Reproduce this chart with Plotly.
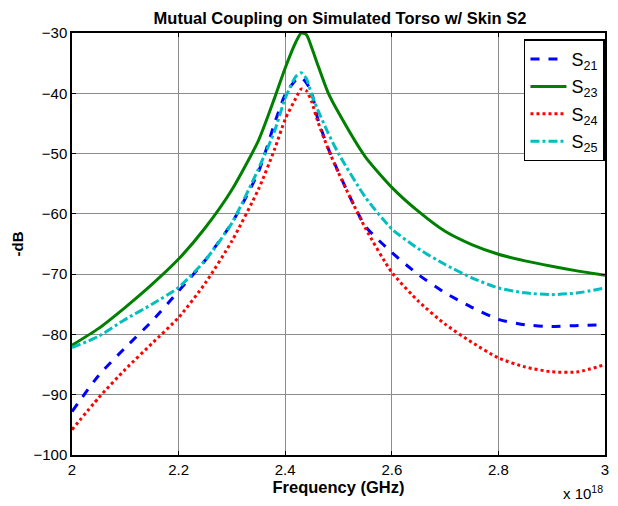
import plotly.graph_objects as go

freq = [2.0, 2.05, 2.1, 2.15, 2.2, 2.25, 2.3, 2.35, 2.38, 2.4, 2.42, 2.43, 2.44, 2.45,
        2.46, 2.48, 2.5, 2.55, 2.6, 2.65, 2.7, 2.75, 2.8, 2.85, 2.9, 2.95, 3.0]

s21 = [-92.8, -86.8, -82.2, -77.8, -72.8, -67.7, -61.5, -53.0, -45.0, -40.2, -37.8, -37.4,
       -38.3, -40.0, -43.9, -49.0, -53.1, -62.0, -66.4, -70.1, -73.1, -75.5, -77.5, -78.4,
       -78.7, -78.5, -78.4]
s23 = [-81.8, -79.0, -75.5, -71.7, -67.5, -62.3, -56.0, -47.8, -40.8, -35.8, -31.5, -30.0,
       -30.3, -32.5, -35.0, -39.8, -43.2, -50.5, -55.6, -59.6, -62.9, -65.1, -66.7, -67.8,
       -68.7, -69.5, -70.2]
s24 = [-95.8, -90.5, -85.8, -81.5, -77.2, -71.5, -64.5, -55.9, -49.3, -44.3, -40.8, -39.3,
       -39.6, -41.5, -44.4, -49.1, -53.2, -62.3, -69.7, -74.5, -78.3, -81.3, -83.9, -85.4,
       -86.2, -86.2, -85.0]
s25 = [-82.2, -80.3, -77.5, -75.0, -72.2, -67.7, -61.5, -52.5, -46.3, -40.8, -37.2, -36.6,
       -37.6, -40.3, -42.5, -46.5, -50.0, -57.2, -62.5, -65.8, -68.4, -70.6, -72.3, -73.1,
       -73.4, -73.1, -72.3]

series_names = ["S<sub>21</sub>", "S<sub>23</sub>", "S<sub>24</sub>", "S<sub>25</sub>"]
series_values = [s21, s23, s24, s25]
colors = ["#0000FF", "#008000", "#FF0000", "#00BFBF"]
dashes = ["dash", "solid", "dot", "dashdot"]

x_tickvals = [2.0, 2.2, 2.4, 2.6, 2.8, 3.0]
x_ticktext = ["2", "2.2", "2.4", "2.6", "2.8", "3"]
y_tickvals = [-30, -40, -50, -60, -70, -80, -90, -100]

fig = go.Figure()
for i, (name, vals, c, d) in enumerate(zip(series_names, series_values, colors, dashes)):
    fig.add_trace(go.Scatter(x=freq, y=vals, mode="lines", name=name, legendgroup=f"g{i}",
                             line=dict(color=c, width=3, dash=d, shape="spline", smoothing=0.6)))

font = "Liberation Sans, Arial, sans-serif"
axis_common = dict(showline=True, linecolor="black", linewidth=1.5, mirror="ticks",
                   ticks="inside", ticklen=4, tickcolor="black",
                   showgrid=True, gridcolor="#8c8c8c", gridwidth=1, zeroline=False,
                   tickfont=dict(family=font, size=15, color="black"))

fig.update_layout(
    width=618, height=506,
    margin=dict(l=72, r=9, t=33, b=51),
    paper_bgcolor="white", plot_bgcolor="white",
    title=dict(text="<b>Mutual Coupling on Simulated Torso w/ Skin S2</b>",
               x=340 / 618, xanchor="center", y=1 - 18 / 506, yanchor="middle",
               font=dict(family=font, size=16.5, color="black")),
    xaxis=dict(range=[2.0, 3.0], tickvals=x_tickvals, ticktext=x_ticktext,
               title=dict(text="<b>Frequency (GHz)</b>", standoff=2,
                          font=dict(family=font, size=16.5, color="black")),
               **axis_common),
    yaxis=dict(range=[-100, -30], tickvals=y_tickvals,
               title=dict(text="<b>-dB</b>", standoff=6,
                          font=dict(family=font, size=15, color="black")),
               **axis_common),
    legend=dict(x=0.848, y=0.985, xanchor="left", yanchor="top",
                bgcolor="white", bordercolor="black", borderwidth=1.5,
                font=dict(family=font, size=18, color="black"),
                tracegroupgap=1, itemwidth=36),
    showlegend=True,
)

fig.add_annotation(text="x 10<sup>18</sup>", xref="paper", yref="paper",
                   x=1.0, y=-0.09, xanchor="right", yanchor="middle", showarrow=False,
                   font=dict(family=font, size=15, color="black"))

fig.write_html("out.html")
